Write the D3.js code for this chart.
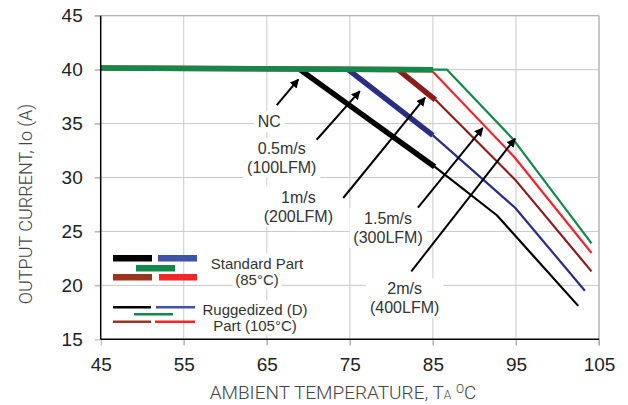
<!DOCTYPE html>
<html>
<head>
<meta charset="utf-8">
<script src="https://cdn.jsdelivr.net/npm/d3@7"></script>
<style>
  body { margin: 0; background: #fff; }
  svg { display: block; }
</style>
</head>
<body>
<div id="chart"></div>
<script>
// tick values
var xTicks = [45, 55, 65, 75, 85, 95, 105];
var yTicks = [15, 20, 25, 30, 35, 40, 45];

// airflow cases, same order everywhere below
var airflow = ["NC", "0.5m/s", "1m/s", "1.5m/s", "2m/s"];
var airflowLfm = ["", "(100LFM)", "(200LFM)", "(300LFM)", "(400LFM)"];

// Standard part (85C) - drawn thick
var stdNC   = [[69, 40], [85.2, 31.0]];
var std05   = [[74.8, 40], [85.0, 33.9]];
var std10   = [[80.8, 40], [85.3, 37.2]];
var std15   = [[45, 40.15], [85, 40.0]];
var std20   = [[45, 40.15], [85, 40.0]];

// Ruggedized (D) part (105C) - drawn thin
var rugNC   = [[85.2, 31.0], [92.7, 26.5], [102.5, 18.1]];
var rug05   = [[85.0, 33.9], [94.9, 27.2], [103.3, 19.5]];
var rug10   = [[85.3, 37.2], [94.9, 29.8], [104.1, 21.3]];
var rug15   = [[85, 39.8], [94.8, 31.9], [104.1, 23.0]];
var rug20   = [[85, 40.0], [86.7, 40.0], [94.6, 33.6], [104.1, 23.9]];

var colors = ["#000000", "#2a2d84", "#8a1c1c", "#f2252b", "#12884a"];
var legendColors = ["#000000", "#3c55a8", "#12884a", "#9b3621", "#f2252b"];

var W = 628, H = 405;
var margin = {left: 100.7, right: 29, top: 15.7, bottom: 65.7};

var svg = d3.select("#chart").append("svg")
  .attr("width", W).attr("height", H);

var x = d3.scaleLinear().domain([45, 105]).range([margin.left, W - margin.right]);
var y = d3.scaleLinear().domain([15, 45]).range([H - margin.bottom, margin.top]);

var defs = svg.append("defs");
defs.append("marker")
  .attr("id", "head")
  .attr("viewBox", "0 0 10 10")
  .attr("refX", 9).attr("refY", 5)
  .attr("markerWidth", 4.5).attr("markerHeight", 4.5)
  .attr("orient", "auto")
  .append("path").attr("d", "M0,0 L10,5 L0,10 z").attr("fill", "#000");

// grid
var grid = svg.append("g").attr("stroke", "#c9c9c9").attr("stroke-width", 1);
grid.selectAll(".gx").data(xTicks.slice(1)).enter().append("line")
  .attr("x1", function(d) { return x(d); }).attr("x2", function(d) { return x(d); })
  .attr("y1", y(45)).attr("y2", y(15) + 6);
grid.selectAll(".gy").data(yTicks.slice(1)).enter().append("line")
  .attr("y1", function(d) { return y(d); }).attr("y2", function(d) { return y(d); })
  .attr("x1", x(45) - 6).attr("x2", x(105));

// axes (labels only, lines drawn separately)
var xAxis = svg.append("g")
  .attr("transform", "translate(0," + y(15) + ")")
  .call(d3.axisBottom(x).tickValues(xTicks).tickSize(6).tickPadding(12));
var yAxis = svg.append("g")
  .attr("transform", "translate(" + x(45) + ",0)")
  .call(d3.axisLeft(y).tickValues(yTicks).tickSize(6).tickPadding(12));
[xAxis, yAxis].forEach(function(a) {
  a.select(".domain").remove();
  a.selectAll(".tick line").attr("stroke", "#aaa");
  a.selectAll(".tick text")
    .attr("fill", "#222")
    .style("font-family", "'Liberation Sans', Arial, sans-serif")
    .style("font-size", "19px");
});

// annotation placement (label centre, arrow tail and tip) in data units
var notes = [
  {t: 65.3, i: 35.2, tail: [66.2, 36.7], tip: [68.8, 39.1]},
  {t: 66.8, i: 32.7, tail: [71.0, 33.5], tip: [76.2, 38.0]},
  {t: 68.8, i: 28.2, tail: [74.2, 28.1], tip: [84.05, 37.4]},
  {t: 79.6, i: 26.2, tail: [83.2, 27.2], tip: [91.0, 34.6]},
  {t: 81.6, i: 19.7, tail: [82.4, 21.3], tip: [94.9, 33.6]}
];

// white boxes behind annotation text (they break the grid)
var noteG = svg.append("g");
notes.forEach(function(n, k) {
  var g = noteG.append("g");
  var txt = g.append("text")
    .attr("x", x(n.t)).attr("y", y(n.i))
    .attr("text-anchor", "middle")
    .style("font-family", "'Liberation Sans', Arial, sans-serif")
    .style("font-size", "16px")
    .attr("fill", "#333");
  txt.append("tspan").attr("x", x(n.t)).attr("dy", "0.35em").text(airflow[k]);
  if (airflowLfm[k]) {
    txt.append("tspan").attr("x", x(n.t)).attr("dy", "19px").text(airflowLfm[k]);
  }
  var bb = txt.node().getBBox();
  g.insert("rect", "text")
    .attr("x", bb.x - 4).attr("y", bb.y - 2)
    .attr("width", bb.width + 8).attr("height", bb.height + 4)
    .attr("fill", "#fff");
});

// legend
var lg = svg.append("g");
var legThick = [
  [113, 152, 258.3, 0], [158, 197, 258.3, 1],
  [136, 175, 268.3, 2],
  [113, 152, 277.3, 3], [159, 197, 277.3, 4]
];
var legThin = [
  [113, 151, 307.3, 0], [156, 195, 307.3, 1],
  [134, 173, 314.3, 2],
  [113, 151, 321.7, 3], [155, 195, 321.7, 4]
];
var legText = [
  ["Standard Part", 257, 263.3], ["(85\u00B0C)", 257, 279.3],
  ["Ruggedized (D)", 255, 310], ["Part (105\u00B0C)", 255, 325.5]
];
legText.forEach(function(d) {
  var t = lg.append("text").attr("x", d[1]).attr("y", d[2]).attr("dy", "0.35em")
    .attr("text-anchor", "middle")
    .style("font-family", "'Liberation Sans', Arial, sans-serif")
    .style("font-size", "15px").attr("fill", "#333").text(d[0]);
  var bb = t.node().getBBox();
  lg.insert("rect", "text").attr("x", bb.x - 3).attr("y", bb.y - 1)
    .attr("width", bb.width + 6).attr("height", bb.height + 2).attr("fill", "#fff");
});
legThick.forEach(function(d) {
  lg.append("line").attr("x1", d[0]).attr("x2", d[1]).attr("y1", d[2]).attr("y2", d[2])
    .attr("stroke", legendColors[d[3]]).attr("stroke-width", 6.5);
});
legThin.forEach(function(d) {
  lg.append("line").attr("x1", d[0]).attr("x2", d[1]).attr("y1", d[2]).attr("y2", d[2])
    .attr("stroke", legendColors[d[3]]).attr("stroke-width", 2.6);
});

// frame
svg.append("line").attr("x1", x(105)).attr("x2", x(105)).attr("y1", y(45)).attr("y2", y(15) + 6)
  .attr("stroke", "#aaa");
svg.append("line").attr("x1", x(45) - 6).attr("x2", x(105)).attr("y1", y(45)).attr("y2", y(45))
  .attr("stroke", "#aaa");

// curves
var line = d3.line().x(function(d) { return x(d[0]); }).y(function(d) { return y(d[1]); });
var standard = [stdNC, std05, std10, std15, std20];
var rugged = [rugNC, rug05, rug10, rug15, rug20];

svg.append("g").selectAll("path").data(rugged).enter().append("path")
  .attr("d", line).attr("fill", "none")
  .attr("stroke", function(d, i) { return colors[i]; })
  .attr("stroke-width", 2.2).attr("stroke-linejoin", "round");
svg.append("g").selectAll("path").data(standard).enter().append("path")
  .attr("d", line).attr("fill", "none")
  .attr("stroke", function(d, i) { return colors[i]; })
  .attr("stroke-width", 5.5);

// arrows
svg.append("g").selectAll("line").data(notes).enter().append("line")
  .attr("x1", function(d) { return x(d.tail[0]); }).attr("y1", function(d) { return y(d.tail[1]); })
  .attr("x2", function(d) { return x(d.tip[0]); }).attr("y2", function(d) { return y(d.tip[1]); })
  .attr("stroke", "#000").attr("stroke-width", 2)
  .attr("marker-end", "url(#head)");

// axis lines
svg.append("line").attr("x1", x(45)).attr("x2", x(45)).attr("y1", y(45)).attr("y2", y(15))
  .attr("stroke", "#000").attr("stroke-width", 1.5);
svg.append("line").attr("x1", x(45)).attr("x2", x(105)).attr("y1", y(15)).attr("y2", y(15))
  .attr("stroke", "#000").attr("stroke-width", 1.5);

// axis titles
var xt = svg.append("text").attr("x", 343).attr("y", 399)
  .attr("text-anchor", "middle").attr("fill", "#444")
  .style("font-family", "Roboto, 'Liberation Sans', sans-serif")
  .style("font-weight", 300).style("font-size", "19px");
xt.append("tspan").text("AMBIENT TEMPERATURE, T");
xt.append("tspan").attr("font-size", "12px").text("A");
xt.append("tspan").text(" ");
xt.append("tspan").attr("font-size", "12px").attr("dy", "-6").text("O");
xt.append("tspan").attr("dy", "6").text("C");

svg.append("text")
  .attr("transform", "translate(32,204) rotate(-90)")
  .attr("text-anchor", "middle").attr("fill", "#444")
  .style("font-family", "Roboto, 'Liberation Sans', sans-serif")
  .style("font-weight", 300).style("font-size", "18px")
  .text("OUTPUT CURRENT, Io  (A)");
</script>
</body>
</html>
